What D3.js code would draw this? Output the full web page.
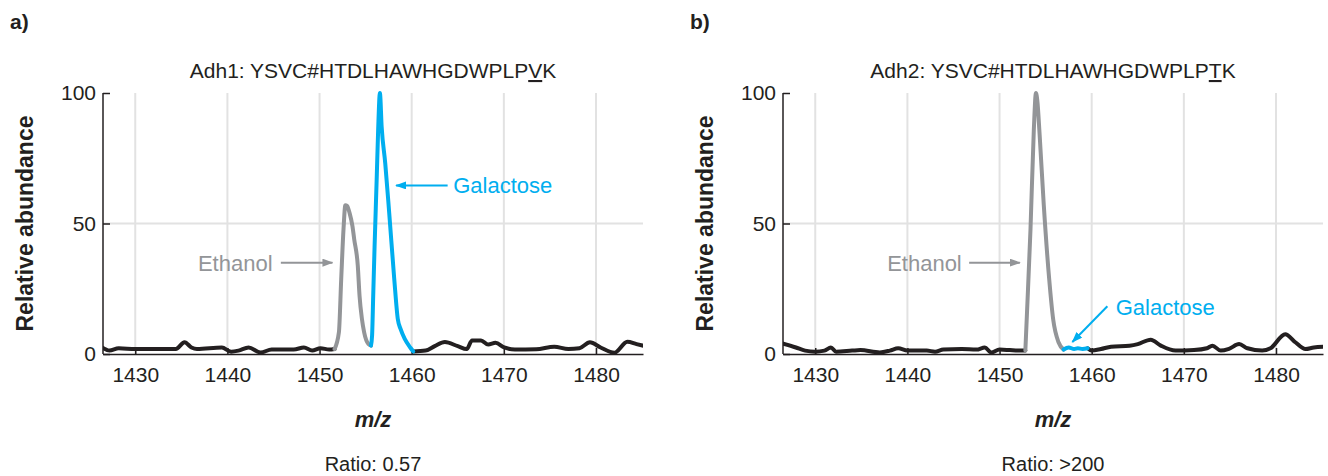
<!DOCTYPE html>
<html>
<head>
<meta charset="utf-8">
<script src="https://cdn.jsdelivr.net/npm/d3@7"></script>
<style>
  body { margin: 0; background: #fff; }
  svg { display: block; font-family: "Liberation Sans", Arial, sans-serif; }
</style>
</head>
<body>
<svg width="1328" height="476"></svg>
<script>
const svg = d3.select("svg");
const width = +svg.attr("width");
const height = +svg.attr("height");

// *** DATA ***
const mzDomain = [1426.5, 1485.1];
const mzTicks = [1430, 1440, 1450, 1460, 1470, 1480];
const abundTicks = [0, 50, 100];

// Adh1 (panel a): [m/z, relative abundance]
const adh1NoiseLeft = [
    [1426.4, 2.5], [1427.2, 1.3], [1428.2, 2.2], [1430, 1.9], [1434.4, 1.9], [1435.35, 4.5],
    [1436.1, 2.5], [1436.7, 1.9], [1439.4, 2.5], [1440.4, 0.9], [1441.2, 1.3], [1442.3, 2.5],
    [1443.6, 0.6], [1444.8, 1.7], [1447.2, 1.7], [1448.3, 2.5], [1449.2, 1.3], [1450.1, 2.2],
    [1451.05, 1.7], [1451.63, 1.9]
];
const adh1Ethanol = [
    [1451.63, 1.9], [1452.1, 8.3], [1452.35, 28.7], [1452.6, 47.8], [1452.8, 57], [1453.0, 56.7],
    [1453.26, 54], [1453.57, 49], [1453.76, 44], [1454.15, 33.8], [1454.34, 22.3], [1454.6, 13.4],
    [1454.84, 8.3], [1455.3, 3.8], [1455.58, 3.2]
];
const adh1Galactose = [
    [1455.58, 3.2], [1455.7, 7], [1455.82, 22], [1455.97, 41], [1456.2, 67], [1456.36, 86],
    [1456.55, 100], [1456.74, 87], [1457.13, 73], [1457.56, 54], [1458.1, 29], [1458.49, 13.4],
    [1458.8, 9.5], [1459.26, 5.7], [1459.84, 2.5], [1460.16, 1.0]
];
const adh1NoiseRight = [
    [1460.16, 1.0], [1461.5, 1.3], [1462.5, 3.0], [1463.6, 4.6], [1465.0, 3.0], [1465.97, 1.9],
    [1466.55, 5.2], [1467.52, 5.2], [1468.3, 3.6], [1469.1, 4.3], [1470.04, 2.5], [1471.2, 1.7],
    [1473.5, 1.8], [1475.47, 2.8], [1477.0, 1.9], [1478.2, 2.2], [1479.34, 4.5], [1480.5, 2.5],
    [1482.0, 0.5], [1483.4, 4.7], [1484.4, 3.8], [1485.2, 3.1]
];

// Adh2 (panel b)
const adh2NoiseLeft = [
    [1426.4, 4.1], [1427.9, 2.5], [1428.9, 1.3], [1430, 0.9], [1431, 1.3], [1431.7, 2.5],
    [1432.25, 0.9], [1434.0, 1.3], [1434.9, 1.5], [1437, 0.6], [1438.1, 1.3], [1439, 2.2],
    [1440, 1.3], [1442.1, 1.3], [1443, 0.9], [1443.9, 1.7], [1445.9, 1.9], [1447.5, 1.7],
    [1448.4, 2.5], [1449.1, 0.6], [1450, 1.7], [1451.1, 1.5], [1452, 1.3], [1452.8, 1.3]
];
const adh2Ethanol = [
    [1452.8, 1.3], [1452.98, 16], [1453.36, 48], [1453.72, 86], [1453.95, 100], [1454.1, 97],
    [1454.35, 84], [1454.8, 57], [1455.38, 29], [1455.83, 13], [1456.4, 4.5], [1456.95, 1.7]
];
const adh2Galactose = [
    [1456.95, 1.7], [1457.5, 2.5], [1458.1, 1.9], [1458.5, 2.2], [1459, 1.9], [1459.56, 2.2]
];
const adh2NoiseRight = [
    [1459.56, 2.2], [1460, 1.3], [1461, 1.9], [1462.1, 2.8], [1464.1, 3.2], [1465, 3.8],
    [1466.4, 5.5], [1467.5, 3.2], [1469.1, 1.3], [1471.1, 1.5], [1472.5, 2.2], [1473.1, 3.2],
    [1474, 1.3], [1474.9, 2.0], [1476, 3.8], [1476.9, 2.2], [1478.5, 1.3], [1479.4, 2.2],
    [1481, 7.6], [1482.1, 4.5], [1483.2, 1.9], [1484.1, 2.5], [1485.2, 2.8]
];

const panelLetters = ["a)", "b)"];
const peptideTitles = [
    ["Adh1: YSVC#HTDLHAWHGDWPLP", "V", "K"],
    ["Adh2: YSVC#HTDLHAWHGDWPLP", "T", "K"]
];
const ratioLabels = ["Ratio: 0.57", ">200"];

// *** STYLE / LAYOUT ***
const black = "#231f20";
const gray = "#939598";
const blue = "#00aeef";
const gridColor = "#e2e2e2";

const plotTop = 93;
const plotH = 261;
const plotW = 540;

const x = d3.scaleLinear().domain(mzDomain).range([0, plotW]);
const y = d3.scaleLinear().domain([0, 100]).range([plotH, 0]);

const line = d3.line()
    .x(d => x(d[0]))
    .y(d => y(d[1]))
    .curve(d3.curveMonotoneX);

// arrow markers
const defs = svg.append("defs");
[["arrowGray", gray], ["arrowBlue", blue]].forEach(([id, c]) => {
    defs.append("marker")
        .attr("id", id)
        .attr("markerUnits", "userSpaceOnUse")
        .attr("viewBox", "0 0 11 8")
        .attr("refX", 10).attr("refY", 4)
        .attr("markerWidth", 11).attr("markerHeight", 8)
        .attr("orient", "auto")
        .append("path")
        .attr("d", "M0,0 L11,4 L0,8 Z")
        .attr("fill", c);
});
defs.append("clipPath").attr("id", "plotClip")
    .append("rect")
    .attr("x", 0).attr("y", -4)
    .attr("width", plotW).attr("height", plotH + 4);

const panels = [
    {
        left: 103, letter: panelLetters[0], title: peptideTitles[0], ratio: ratioLabels[0],
        segs: [[adh1NoiseLeft, black], [adh1NoiseRight, black], [adh1Ethanol, gray], [adh1Galactose, blue]],
        // annotation anchors in data units
        eth: { text: [1444.9, 35], from: [1445.8, 35], to: [1451.4, 35] },
        gal: { text: [1464.5, 64.6], from: [1463.9, 64.6], to: [1458.3, 64.6] }
    },
    {
        left: 783, letter: panelLetters[1], title: peptideTitles[1], ratio: "Ratio: " + ratioLabels[1],
        segs: [[adh2NoiseLeft, black], [adh2NoiseRight, black], [adh2Ethanol, gray], [adh2Galactose, blue]],
        eth: { text: [1445.9, 35], from: [1446.7, 35], to: [1452.2, 35] },
        gal: { text: [1462.6, 18], from: [1461.7, 18.3], to: [1457.9, 4.6] }
    }
];

panels.forEach(p => {
    const g = svg.append("g").attr("transform", `translate(${p.left},${plotTop})`);

    // panel letter
    svg.append("text")
        .attr("x", p.left - 93).attr("y", 29)
        .attr("font-size", 21).attr("font-weight", "bold")
        .attr("fill", black)
        .text(p.letter);

    // title with underlined residue
    const t = svg.append("text")
        .attr("x", p.left + plotW / 2).attr("y", 78)
        .attr("text-anchor", "middle")
        .attr("font-size", 21)
        .attr("fill", black);
    t.append("tspan").text(p.title[0]);
    t.append("tspan").style("text-decoration", "underline").text(p.title[1]);
    t.append("tspan").text(p.title[2]);

    // grid
    g.selectAll(".vgrid").data(mzTicks).enter().append("line")
        .attr("x1", d => x(d)).attr("x2", d => x(d))
        .attr("y1", 0).attr("y2", plotH)
        .attr("stroke", gridColor).attr("stroke-width", 2);
    g.append("line")
        .attr("x1", 0).attr("x2", plotW)
        .attr("y1", y(50)).attr("y2", y(50))
        .attr("stroke", gridColor).attr("stroke-width", 2);

    // axes
    const yAxis = g.append("g")
        .call(d3.axisLeft(y).tickValues(abundTicks).tickSize(-7).tickSizeOuter(0).tickPadding(7));
    const xAxis = g.append("g")
        .attr("transform", `translate(0,${plotH})`)
        .call(d3.axisBottom(x).tickValues(mzTicks).tickFormat(d3.format("d"))
            .tickSize(-6).tickSizeOuter(0).tickPadding(13));
    [yAxis, xAxis].forEach(a => {
        a.selectAll("path, line").attr("stroke", black).attr("stroke-width", 1.5);
        a.selectAll("text").attr("font-size", 21).attr("fill", black)
            .attr("font-family", "'Liberation Sans', Arial, sans-serif");
    });
    // top tick at 100 sits on the corner
    yAxis.select(".domain").attr("d", `M0,0V${plotH}`);

    // spectrum segments
    const lines = g.append("g").attr("clip-path", "url(#plotClip)");
    p.segs.forEach(([data, color]) => {
        lines.append("path")
            .datum(data)
            .attr("d", line)
            .attr("fill", "none")
            .attr("stroke", color)
            .attr("stroke-width", 4)
            .attr("stroke-linejoin", "round")
            .attr("stroke-linecap", "round");
    });

    // annotations
    g.append("text")
        .attr("x", x(p.eth.text[0])).attr("y", y(p.eth.text[1]))
        .attr("dy", "0.36em")
        .attr("text-anchor", "end")
        .attr("font-size", 22).attr("fill", gray)
        .text("Ethanol");
    g.append("line")
        .attr("x1", x(p.eth.from[0])).attr("y1", y(p.eth.from[1]))
        .attr("x2", x(p.eth.to[0])).attr("y2", y(p.eth.to[1]))
        .attr("stroke", gray).attr("stroke-width", 2)
        .attr("marker-end", "url(#arrowGray)");

    g.append("text")
        .attr("x", x(p.gal.text[0])).attr("y", y(p.gal.text[1]))
        .attr("dy", "0.36em")
        .attr("font-size", 22).attr("fill", blue)
        .text("Galactose");
    g.append("line")
        .attr("x1", x(p.gal.from[0])).attr("y1", y(p.gal.from[1]))
        .attr("x2", x(p.gal.to[0])).attr("y2", y(p.gal.to[1]))
        .attr("stroke", blue).attr("stroke-width", 2)
        .attr("marker-end", "url(#arrowBlue)");

    // y label
    g.append("text")
        .attr("transform", `translate(-70,${plotH / 2}) rotate(-90)`)
        .attr("text-anchor", "middle")
        .attr("font-size", 23).attr("font-weight", "bold")
        .attr("fill", black)
        .text("Relative abundance");

    // x label
    g.append("text")
        .attr("x", plotW / 2).attr("y", 334)
        .attr("text-anchor", "middle")
        .attr("font-size", 22).attr("font-weight", "bold").attr("font-style", "italic")
        .attr("fill", black)
        .text("m/z");

    // ratio
    g.append("text")
        .attr("x", plotW / 2).attr("y", 378)
        .attr("text-anchor", "middle")
        .attr("font-size", 20)
        .attr("fill", black)
        .text(p.ratio);
});
</script>
</body>
</html>
